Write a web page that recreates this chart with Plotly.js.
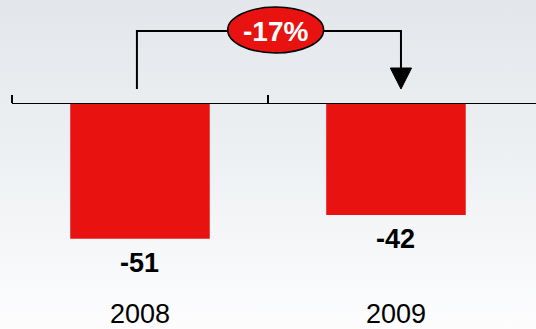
<!DOCTYPE html>
<html>
<head>
<meta charset="utf-8">
<script src="https://cdn.plot.ly/plotly-3.0.1.min.js"></script>
<style>
html,body{margin:0;padding:0;}
body{width:536px;height:329px;background:linear-gradient(to bottom,#e3e7eb 0%,#eef1f3 50%,#fdfdfe 100%);}
#chart{width:536px;height:329px;}
</style>
</head>
<body>
<div id="chart"></div>
<script>
const years = ['2008', '2009'];
const values = [-51, -42];
const changeLabel = '-17%';

const FONT = '"Liberation Sans", Arial, sans-serif';
const RED = '#e81211';

const data = [{
  type: 'bar',
  x: years,
  y: values,
  marker: {color: RED},
  width: 0.545,
  hoverinfo: 'none'
}, {
  type: 'scatter', mode: 'none', x: [0, 1], y: [0, 0], xaxis: 'x2', hoverinfo: 'none', showlegend: false
}];

const annotations = years.map((yr, i) => ({
  x: i, y: values[i], xref: 'x', yref: 'y',
  text: '<b>' + values[i] + '</b>', showarrow: false,
  yanchor: 'middle', yshift: -24,
  font: {family: FONT, size: 27, color: '#000000'}
}));
annotations.push({
  x: 0.53, xref: 'x', y: 1, yref: 'paper', yshift: 73,
  text: '<b>' + changeLabel + '</b>', showarrow: false,
  yanchor: 'middle',
  font: {family: FONT, size: 28, color: '#fff'}
});

const shapes = [
  {
    type: 'path', xref: 'x', yref: 'paper', ysizemode: 'pixel', yanchor: 1,
    path: 'M-0.012,15 L-0.012,73 L1.0195,73 L1.0195,36',
    line: {color: '#000', width: 2}
  },
  {
    type: 'path', xref: 'x', yref: 'paper', ysizemode: 'pixel', yanchor: 1,
    path: 'M0.978,36 L1.061,36 L1.0195,15 Z',
    fillcolor: '#000', line: {color: '#000', width: 1}
  },
  {
    type: 'circle', xref: 'x', yref: 'paper', xsizemode: 'pixel', ysizemode: 'pixel',
    xanchor: 0.53, yanchor: 1, x0: -48, x1: 48, y0: 51, y1: 97,
    fillcolor: RED, line: {color: '#000', width: 1.5}
  }
];

const layout = {
  width: 536, height: 329,
  margin: {l: 12, r: 0, t: 104, b: 34},
  paper_bgcolor: 'rgba(0,0,0,0)',
  plot_bgcolor: 'rgba(0,0,0,0)',
  showlegend: false,
  xaxis: {
    type: 'category', range: [-0.5, 1.547],
    showline: false, showgrid: false, zeroline: false, ticks: '',
    tickfont: {family: FONT, size: 27, color: '#000'},
    fixedrange: true
  },
  xaxis2: {
    type: 'linear', overlaying: 'x', side: 'top', anchor: 'y',
    range: [-0.5, 1.547],
    tickmode: 'array', tickvals: [-0.5, 0.5],
    ticks: 'outside', ticklen: 8, tickwidth: 1.5, tickcolor: '#000',
    showline: true, linecolor: '#000', linewidth: 1.5,
    showticklabels: false, showgrid: false, zeroline: false
  },
  yaxis: {
    range: [-72.3, 0], visible: false, showgrid: false, zeroline: false, fixedrange: true
  },
  annotations: annotations,
  shapes: shapes
};

Plotly.newPlot('chart', data, layout, {displayModeBar: false, staticPlot: true});
</script>
</body>
</html>
